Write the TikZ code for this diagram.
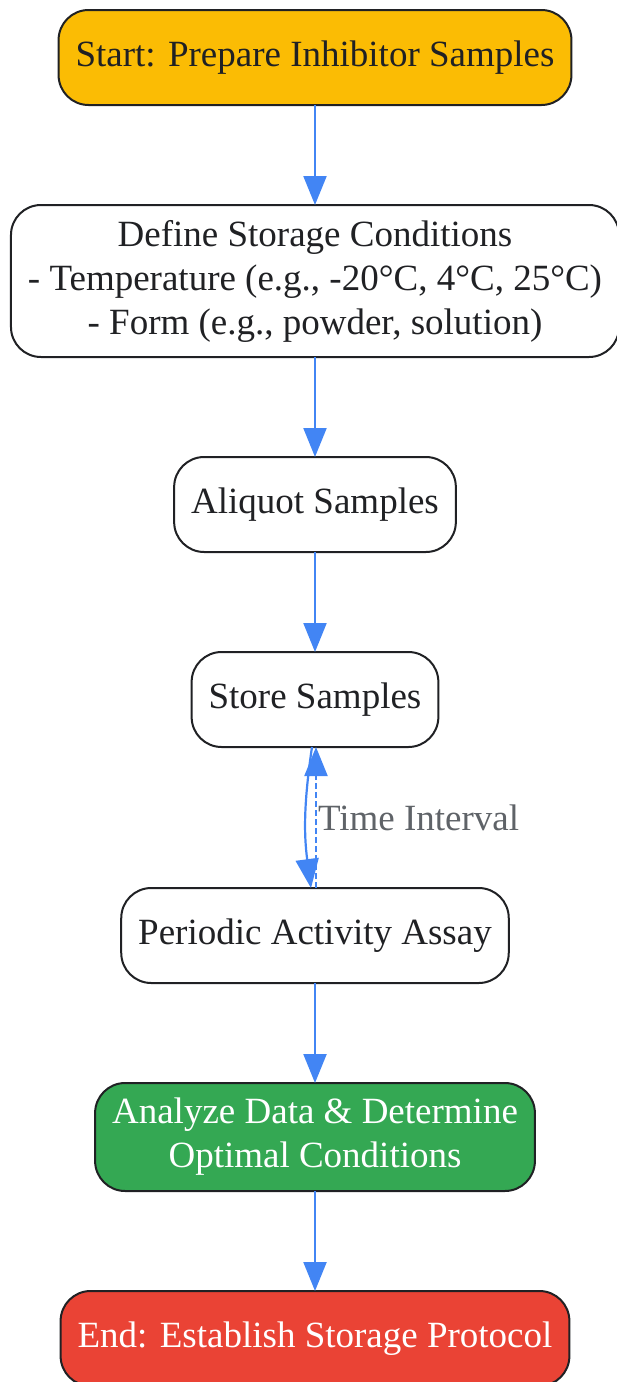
\documentclass[tikz,border=0pt]{standalone}
\usepackage{fontspec}
\setmainfont{Liberation Serif}
\usetikzlibrary{shapes,arrows.meta,positioning}
\definecolor{startyellow}{HTML}{FBBC04}
\definecolor{analyzegreen}{HTML}{34A853}
\definecolor{endred}{HTML}{EA4335}
\definecolor{flowblue}{HTML}{4285F4}
\definecolor{boxline}{HTML}{202124}
\definecolor{labelgray}{HTML}{5F6368}
\tikzset{
    %Define standard arrow tip
    >={Triangle[length=29pt,width=23pt]},
    %Define style for boxes
    block/.style={
           rectangle,
           rounded corners=30pt,
           draw=boxline,
           line width=2pt,
           fill=white,
           text=boxline,
           font=\fontsize{37}{44}\selectfont,
           align=center,
           inner xsep=17pt,
           inner ysep=6pt,
           outer sep=0pt,
           minimum height=95pt},
    % Define arrow style
    arrow/.style={
           ->,
           line width=2.2pt,
           draw=flowblue,
           }
}
\begin{document}
\begin{tikzpicture}[x=1pt, y=1pt, node distance=100pt]
    \useasboundingbox (0,0) rectangle (617,-1382);
    \node [block, fill=startyellow] (PREP) at (315,-57.5) {Start: Prepare Inhibitor Samples};
    \node [block, below=of PREP, minimum height=152pt] (COND) {Define Storage Conditions\\- Temperature (e.g., -20°C, 4°C, 25°C)\\- Form (e.g., powder, solution)};
    \node [block, below=of COND] (ALIQ) {Aliquot Samples};
    \node [block, below=of ALIQ] (STORE) {Store Samples};
    \node [block, below=141pt of STORE] (ASSAY) {Periodic Activity Assay};
    \node [block, below=of ASSAY, fill=analyzegreen, text=white, minimum height=108pt] (ANALYZE) {Analyze Data \& Determine\\Optimal Conditions};
    \node [block, below=of ANALYZE, fill=endred, text=white] (PROTO) {End: Establish Storage Protocol};

	\path[->] (PREP) edge[arrow] (COND);
	\path[->] (COND) edge[arrow] (ALIQ);
	\path[->] (ALIQ) edge[arrow] (STORE);
	\path[->] ([xshift=-3pt]STORE.south) edge[arrow, bend right=8] ([xshift=-4pt]ASSAY.north);
	\path[->] ([xshift=1pt]ASSAY.north)
		edge[arrow, dash pattern=on 6pt off 3pt]
		node[right, inner sep=1pt, text=labelgray, font=\fontsize{37}{44}\selectfont] {Time Interval}
		([xshift=1pt]STORE.south);
	\path[->] (ASSAY) edge[arrow] (ANALYZE);
	\path[->] (ANALYZE) edge[arrow] (PROTO);
\end{tikzpicture}
\end{document}
